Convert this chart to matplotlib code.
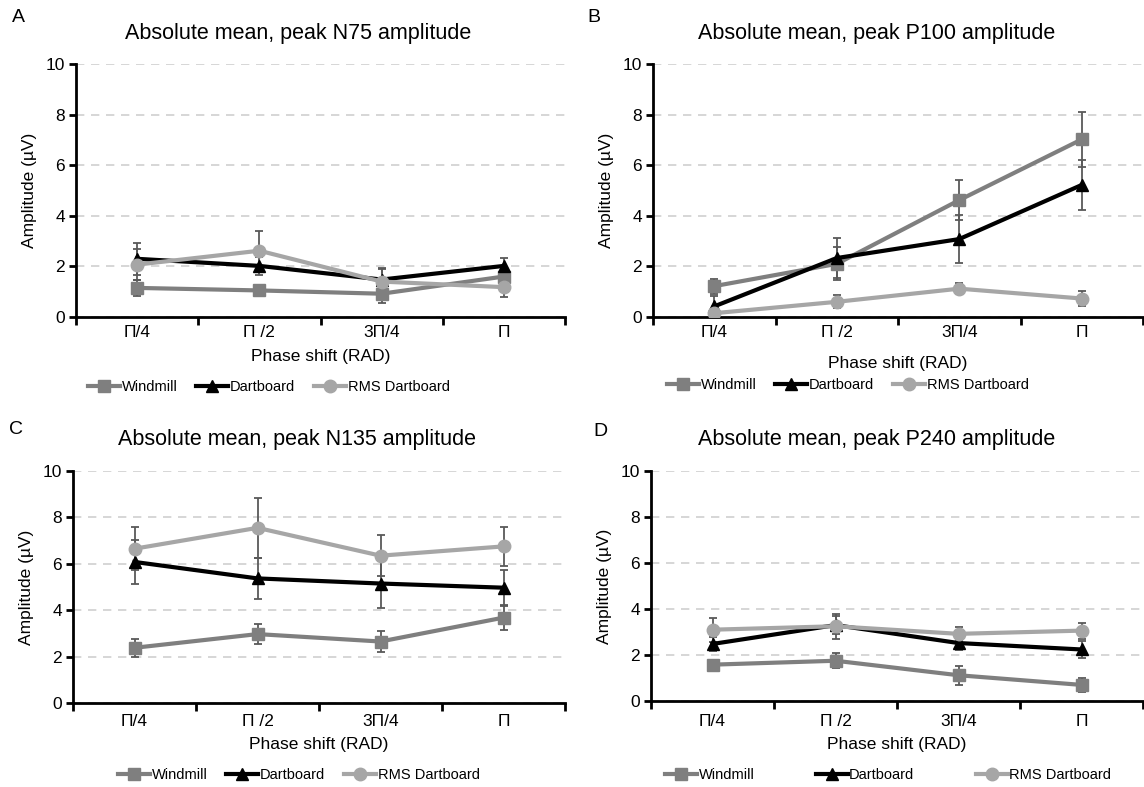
import matplotlib
matplotlib.use("Agg")
import matplotlib.pyplot as plt
import numpy as np

plt.rcParams['font.family'] = ['Liberation Sans', 'DejaVu Sans']

categories = ["Π/4", "Π /2", "3Π/4", "Π"]
series_names = ["Windmill", "Dartboard", "RMS Dartboard"]

titles = ["Absolute mean, peak N75 amplitude",
          "Absolute mean, peak P100 amplitude",
          "Absolute mean, peak N135 amplitude",
          "Absolute mean, peak P240 amplitude"]
panel_letters = ["A", "B", "C", "D"]

# Panel A (N75)
a_windmill = [1.15, 1.05, 0.92, 1.60]
a_windmill_err = [0.33, 0.22, 0.35, 0.30]
a_dartboard = [2.30, 2.02, 1.48, 2.02]
a_dartboard_err = [0.63, 0.35, 0.45, 0.33]
a_rms = [2.07, 2.62, 1.40, 1.18]
a_rms_err = [0.60, 0.78, 0.50, 0.38]

# Panel B (P100)
b_windmill = [1.22, 2.10, 4.62, 7.02]
b_windmill_err = [0.30, 0.65, 0.80, 1.10]
b_dartboard = [0.42, 2.33, 3.08, 5.22]
b_dartboard_err = [0.40, 0.80, 0.95, 1.00]
b_rms = [0.15, 0.60, 1.12, 0.73]
b_rms_err = [0.08, 0.25, 0.22, 0.30]

# Panel C (N135)
c_windmill = [2.38, 2.97, 2.65, 3.68]
c_windmill_err = [0.38, 0.42, 0.45, 0.52]
c_dartboard = [6.08, 5.37, 5.15, 4.97]
c_dartboard_err = [0.95, 0.90, 1.05, 0.75]
c_rms = [6.65, 7.55, 6.35, 6.75]
c_rms_err = [0.92, 1.30, 0.88, 0.85]

# Panel D (P240)
d_windmill = [1.58, 1.75, 1.12, 0.70]
d_windmill_err = [0.10, 0.33, 0.42, 0.30]
d_dartboard = [2.48, 3.30, 2.52, 2.24]
d_dartboard_err = [0.30, 0.40, 0.30, 0.38]
d_rms = [3.10, 3.25, 2.92, 3.06]
d_rms_err = [0.52, 0.55, 0.30, 0.35]

panels = [
    (a_windmill, a_windmill_err, a_dartboard, a_dartboard_err, a_rms, a_rms_err),
    (b_windmill, b_windmill_err, b_dartboard, b_dartboard_err, b_rms, b_rms_err),
    (c_windmill, c_windmill_err, c_dartboard, c_dartboard_err, c_rms, c_rms_err),
    (d_windmill, d_windmill_err, d_dartboard, d_dartboard_err, d_rms, d_rms_err),
]

colors = ["#7f7f7f", "#000000", "#a6a6a6"]
markers = ["s", "^", "o"]
err_color = "#595959"

W, H = 1144, 787
fig = plt.figure(figsize=(W / 100, H / 100), dpi=100)

# axes boxes in pixels: left, right, top(y of 10), bottom(y of 0)
boxes = [(76, 565, 64, 317), (653, 1143, 64, 317),
         (73, 565, 471, 703), (651, 1143, 471, 701)]
letter_pos = [(18, 18), (594, 18), (16, 430), (600, 431)]
title_xy = [(298, 33), (877, 33), (297, 440), (877, 439)]
ticklabel_pad = [5.5, 5.5, 8.0, 9.5]
xlabel_y = [356, 363, 745, 745]
legend_y = [387, 385, 775, 775]
legend_x = [88, 667, 118, 665]
legend_colsp = [1.3, 1.3, 1.3, 4.2]

x = np.arange(len(categories)) + 0.5

for i, (box, data) in enumerate(zip(boxes, panels)):
    l, r, t, b = box
    ax = fig.add_axes([l / W, 1 - b / H, (r - l) / W, (b - t) / H])
    ys = [data[0], data[2], data[4]]
    es = [data[1], data[3], data[5]]
    handles = []
    for s in range(3):
        ax.errorbar(x, ys[s], yerr=es[s], fmt='none', ecolor=err_color,
                    elinewidth=1.3, capsize=3, capthick=1.3, zorder=2)
    for s in range(3):
        h, = ax.plot(x, ys[s], color=colors[s], marker=markers[s],
                     markersize=9, linewidth=3,
                     label=series_names[s], zorder=3)
        handles.append(h)
    ax.set_xlim(0, 4)
    ax.set_ylim(0, 10)
    ax.set_yticks([0, 2, 4, 6, 8, 10])
    ax.set_xticks([0, 1, 2, 3, 4])
    ax.set_xticklabels([])
    ax.set_xticks(x, minor=True)
    ax.set_xticklabels(categories, minor=True, fontsize=12.5)
    ax.tick_params(axis='x', which='minor', length=0, pad=ticklabel_pad[i])
    ax.tick_params(axis='x', which='major', length=6, width=2, direction='out')
    ax.tick_params(axis='y', length=5, width=2, labelsize=12.5, pad=3)
    for sp in ['top', 'right']:
        ax.spines[sp].set_visible(False)
    ax.spines['left'].set_linewidth(2)
    ax.spines['bottom'].set_linewidth(2)
    ax.yaxis.grid(True, linestyle=(0, (5, 4)), color='#d0d0d0', linewidth=1.2)
    ax.set_axisbelow(True)
    ax.set_ylabel("Amplitude (µV)", fontsize=12.5, labelpad=6)
    ax.set_xlabel("Phase shift (RAD)", fontsize=12.5)
    ax.xaxis.set_label_coords(0.5, -(xlabel_y[i] - b) / (b - t))
    ax.xaxis.label.set_verticalalignment('center')
    tx, ty = title_xy[i]
    fig.text(tx / W, 1 - ty / H, titles[i], fontsize=15.5,
             ha='center', va='center')
    lx, ly = letter_pos[i]
    fig.text(lx / W, 1 - ly / H, panel_letters[i], fontsize=14,
             ha='center', va='center')
    fig.legend(handles=handles, loc='center left',
               bbox_to_anchor=(legend_x[i] / W, 1 - legend_y[i] / H),
               ncol=3, frameon=False, fontsize=10.5,
               handlelength=2.2, handletextpad=0.1,
               columnspacing=legend_colsp[i],
               borderaxespad=0, borderpad=0)

fig.savefig("out.png", dpi=100)
